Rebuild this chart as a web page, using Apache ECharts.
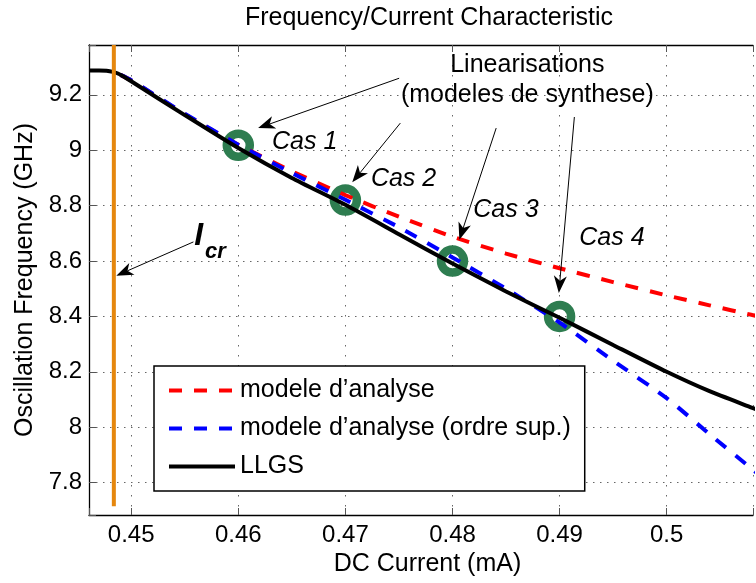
<!DOCTYPE html>
<html>
<head>
<meta charset="utf-8">
<script src="https://cdn.jsdelivr.net/npm/echarts@6/dist/echarts.min.js"></script>
<style>
  html, body { margin: 0; padding: 0; background: #fff; }
  #chart { width: 756px; height: 583px; }
</style>
</head>
<body>
<div id="chart"></div>
<script>
// ---------------- data ----------------
const xTicks = [0.45, 0.46, 0.47, 0.48, 0.49, 0.5];
const yTicks = [7.8, 8, 8.2, 8.4, 8.6, 8.8, 9, 9.2];

const llgsX = [0.4461, 0.4470, 0.4477, 0.4483, 0.4487, 0.4492, 0.4500, 0.4550, 0.4600, 0.4650, 0.4700, 0.4750, 0.4800, 0.4850, 0.4900, 0.4950, 0.5000, 0.5040, 0.5080, 0.5092];
const llgsY = [9.288, 9.288, 9.287, 9.283, 9.278, 9.268, 9.249, 9.127, 9.008, 8.900, 8.803, 8.697, 8.591, 8.490, 8.395, 8.297, 8.200, 8.130, 8.070, 8.052];

const analyseX = [0.4490, 0.4500, 0.4550, 0.4600, 0.4650, 0.4700, 0.4750, 0.4800, 0.4850, 0.4900, 0.4950, 0.5000, 0.5040, 0.5080, 0.5092];
const analyseY = [9.272, 9.252, 9.130, 9.020, 8.924, 8.838, 8.760, 8.688, 8.627, 8.574, 8.524, 8.476, 8.440, 8.405, 8.395];

const ordreSupX = [0.4490, 0.4500, 0.4550, 0.4600, 0.4650, 0.4700, 0.4750, 0.4800, 0.4850, 0.4900, 0.4950, 0.5000, 0.5040, 0.5080, 0.5092];
const ordreSupY = [9.272, 9.253, 9.132, 9.020, 8.918, 8.821, 8.722, 8.613, 8.500, 8.378, 8.240, 8.105, 7.975, 7.848, 7.810];

const casX = [0.46, 0.47, 0.48, 0.49];
const casY = [9.018, 8.820, 8.600, 8.400];
const casLabels = ['Cas 1', 'Cas 2', 'Cas 3', 'Cas 4'];

const icrX = [0.44838, 0.44838];
const icrY = [7.715, 9.38];

const seriesNames = ['modele d\u2019analyse', 'modele d\u2019analyse (ordre sup.)', 'LLGS'];

// ---------------- chart ----------------
const FONT = "'Liberation Sans', Arial, Helvetica, sans-serif";
const xMin = 0.44606, xMax = 0.50806;
const yMin = 7.683, yMax = 9.38;

const zip = (xs, ys) => xs.map((x, i) => [x, ys[i]]);
const fmt = ticks => v => {
  const t = ticks.find(t => Math.abs(t - v) < 1e-7);
  return t === undefined ? '' : String(t);
};

const chart = echarts.init(document.getElementById('chart'), null, { renderer: 'canvas' });

const option = {
  backgroundColor: '#fff',
  animation: false,
  title: {
    text: 'Frequency/Current Characteristic',
    left: 429, top: 6, padding: 0, textAlign: 'center',
    textStyle: { fontFamily: FONT, fontSize: 25, fontWeight: 'normal', color: '#000' }
  },
  grid: { left: 89, top: 45, bottom: 68, right: 0, containLabel: false },
  legend: {
    orient: 'vertical', left: 154, top: 366,
    itemWidth: 66, itemHeight: 25, itemGap: 13,
    padding: [12, 14, 12, 13],
    backgroundColor: '#fff', borderColor: '#000', borderWidth: 1.5, borderRadius: 0,
    textStyle: { fontFamily: FONT, fontSize: 25, color: '#000' },
    lineStyle: { width: 4 },
    itemStyle: { opacity: 0 },
    data: seriesNames,
    selectedMode: false
  },
  xAxis: [{
    type: 'value', min: xMin, max: xMax, splitNumber: 6, position: 'bottom',
    name: 'DC Current (mA)', nameLocation: 'middle', nameGap: 37,
    nameTextStyle: { fontFamily: FONT, fontSize: 25, color: '#000', padding: [0, 0, 0, 13] },
    axisLine: { show: true, onZero: false, lineStyle: { color: '#000', width: 1.3 } },
    axisTick: { show: true, inside: true, length: 7, lineStyle: { color: '#555', width: 1 } },
    axisLabel: { margin: 8, fontFamily: FONT, fontSize: 24, color: '#000', formatter: fmt(xTicks) },
    splitLine: { show: true, lineStyle: { color: '#666', width: 1, type: [1.5, 8.5] } }
  }, {
    type: 'value', min: xMin, max: xMax, splitNumber: 6, position: 'top',
    axisLine: { show: true, onZero: false, lineStyle: { color: '#000', width: 1.3 } },
    axisTick: { show: true, inside: true, length: 7, lineStyle: { color: '#555', width: 1 } },
    axisLabel: { show: false },
    splitLine: { show: false }
  }],
  yAxis: {
    type: 'value', min: yMin, max: yMax, splitNumber: 8,
    name: 'Oscillation Frequency (GHz)', nameLocation: 'middle', nameGap: 49,
    nameTextStyle: { fontFamily: FONT, fontSize: 25, color: '#000' },
    axisLine: { show: true, onZero: false, lineStyle: { color: '#000', width: 1.3 } },
    axisTick: { show: true, inside: true, length: 7, lineStyle: { color: '#555', width: 1 } },
    axisLabel: { margin: 7, fontFamily: FONT, fontSize: 24, color: '#000', formatter: fmt(yTicks) },
    splitLine: { show: true, lineStyle: { color: '#666', width: 1, type: [1.5, 5.5] } }
  },
  series: [
    {
      type: 'scatter', name: 'cas', data: zip(casX, casY), symbol: 'circle', symbolSize: 23,
      itemStyle: { color: 'rgba(0,0,0,0)', borderColor: '#2E7D50', borderWidth: 8.5, opacity: 1 },
      z: 2, silent: true
    },
    {
      type: 'line', name: seriesNames[0], data: zip(analyseX, analyseY), symbol: 'none', showSymbol: false, smooth: 0.2,
      lineStyle: { color: '#FF0000', width: 4, type: [13, 12] }, itemStyle: { color: '#FF0000' }, z: 3, silent: true
    },
    {
      type: 'line', name: seriesNames[1], data: zip(ordreSupX, ordreSupY), symbol: 'none', showSymbol: false, smooth: 0.2,
      lineStyle: { color: '#0000FF', width: 4, type: [13, 12] }, itemStyle: { color: '#0000FF' }, z: 3, silent: true
    },
    {
      type: 'line', name: seriesNames[2], data: zip(llgsX, llgsY), symbol: 'none', showSymbol: false, smooth: 0.2,
      lineStyle: { color: '#000', width: 4, type: 'solid' }, itemStyle: { color: '#000' }, z: 4, silent: true
    },
    {
      type: 'line', name: 'Icr', data: zip(icrX, icrY), symbol: 'none', showSymbol: false,
      lineStyle: { color: '#E5870E', width: 4 }, itemStyle: { color: '#E5870E' }, z: 5, silent: true
    }
  ]
};

chart.setOption(option);

// ---------------- annotations (placed in data coordinates) ----------------
const P = (x, y) => chart.convertToPixel({ xAxisIndex: 0, yAxisIndex: 0 }, [x, y]);

const textEl = (x, y, text, extra) => {
  const p = P(x, y);
  return {
    type: 'text', x: p[0], y: p[1], z: 100, silent: true,
    style: Object.assign({ text, fontFamily: FONT, fontSize: 25, fill: '#000', align: 'left', verticalAlign: 'middle' }, extra || {})
  };
};

const arrowEls = (x1, y1, x2, y2) => {
  const a = P(x1, y1), b = P(x2, y2);
  const dx = b[0] - a[0], dy = b[1] - a[1];
  const len = Math.hypot(dx, dy);
  const ux = dx / len, uy = dy / len, nx = -uy, ny = ux;
  const L = 17, W = 6.5;
  const back = [b[0] - ux * L, b[1] - uy * L];
  const notch = [b[0] - ux * L * 0.72, b[1] - uy * L * 0.72];
  return [
    { type: 'line', z: 100, silent: true, shape: { x1: a[0], y1: a[1], x2: notch[0], y2: notch[1] }, style: { stroke: '#000', lineWidth: 1 } },
    { type: 'polygon', z: 100, silent: true, shape: { points: [b, [back[0] + nx * W, back[1] + ny * W], notch, [back[0] - nx * W, back[1] - ny * W]] }, style: { fill: '#000' } }
  ];
};

const casTextPos = [[0.46315, 9.030], [0.47238, 8.896], [0.48194, 8.784], [0.49184, 8.684]];
const arrows = [
  [0.47502, 9.260, 0.46185, 9.080],
  [0.47513, 9.098, 0.47064, 8.884],
  [0.48408, 9.080, 0.48064, 8.677],
  [0.49138, 9.120, 0.48993, 8.485],
  [0.45581, 8.669, 0.44861, 8.547]
];

const graphics = [];
graphics.push(textEl(0.48699, 9.308, 'Linearisations', { align: 'center' }));
graphics.push(textEl(0.48699, 9.200, '(modeles de synthese)', { align: 'center' }));
casLabels.forEach((t, i) => graphics.push(textEl(casTextPos[i][0], casTextPos[i][1], t, { fontStyle: 'italic' })));
graphics.push(textEl(0.45588, 8.688, 'I', { fontStyle: 'italic', fontWeight: 'bold', fontSize: 32 }));
graphics.push(textEl(0.45690, 8.634, 'cr', { fontStyle: 'italic', fontWeight: 'bold', fontSize: 22 }));
arrows.forEach(a => graphics.push(...arrowEls(a[0], a[1], a[2], a[3])));

chart.setOption({ graphic: { elements: graphics } });
</script>
</body>
</html>
